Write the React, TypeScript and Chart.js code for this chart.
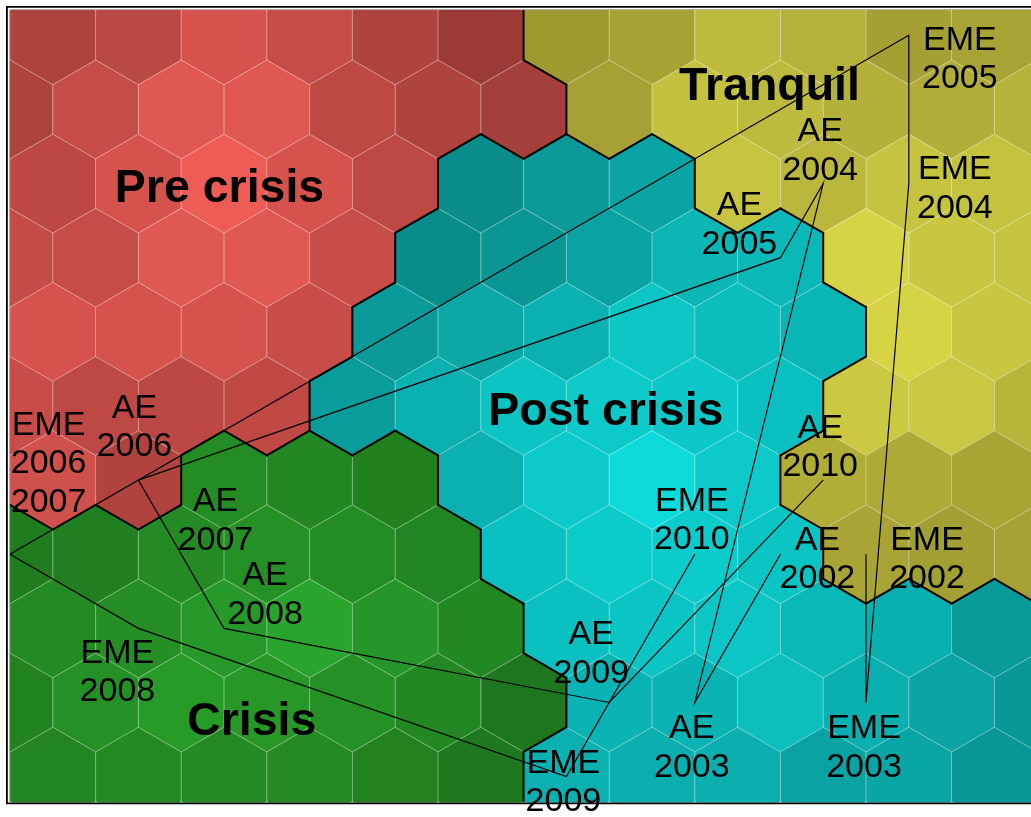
import React, { useEffect, useRef } from "react";
import { Chart, registerables } from "chart.js";

Chart.register(...registerables);

// ---------------- DATA ----------------
// SOM grid: one string per row (top to bottom), one letter per hexagon cell.
// R = Pre crisis, O = Tranquil, T = Post crisis, G = Crisis
const clusterRows: string[] = [
  "RRRRRROOOOOO",
  "RRRRRRROOOOOO",
  "RRRRRTTTOOOO",
  "RRRRRTTTTTOOO",
  "RRRRTTTTTTOO",
  "RRRRTTTTTTOOO",
  "RRGGGTTTTOOO",
  "GGGGGGTTTTOOO",
  "GGGGGGTTTTTT",
  "GGGGGGGTTTTTT",
  "GGGGGGTTTTTT",
];

// shade of every cell (same shape as clusterRows)
const cellColors: string[][] = [
  ["#AD433D", "#BA4843", "#D6524C", "#C64D47", "#AF443F", "#9C3A37", "#9E9A30", "#A6A234", "#BDBB3D", "#B5B23A", "#A5A034", "#A8A335"],
  ["#AD433D", "#C64C47", "#E05852", "#E05852", "#BE4943", "#AF433E", "#A43F3C", "#A5A134", "#C3C13E", "#BDBB3D", "#B4B13A", "#B0AD38", "#B6B33B"],
  ["#BD4843", "#D6524D", "#EE5C56", "#D6524C", "#BE4843", "#098C8A", "#0B9A99", "#0AA4A4", "#C6C440", "#BAB73C", "#C5C340", "#C4C23F"],
  ["#C44B46", "#C64C47", "#E05852", "#E05852", "#C84D48", "#098D8B", "#0A9695", "#0AA3A3", "#0BB6B5", "#0AB8B7", "#D6D444", "#C9C741", "#C5C340"],
  ["#D6524C", "#D6524C", "#D6524C", "#C84C47", "#0A9A99", "#0BA8A7", "#0BB0B0", "#0CC6C6", "#0BBDBD", "#0AB5B5", "#D6D345", "#C9C741"],
  ["#C84C47", "#BE4843", "#BD4843", "#C04944", "#0A9C9B", "#0BB0B0", "#0CC4C4", "#0CCACA", "#0CC8C8", "#0BC0C0", "#CBC941", "#CAC842", "#B8B53B"],
  ["#D0514B", "#B0433E", "#248C25", "#238823", "#21811F", "#0BB0B0", "#0CCACA", "#0DDADA", "#0CCACA", "#B1AE38", "#ADAA37", "#A9A535"],
  ["#1F7C1F", "#207F20", "#238A24", "#259025", "#248C24", "#228523", "#0BC0C0", "#0CCBCB", "#0CCBCB", "#0BC4C4", "#A8A436", "#A29F33", "#A5A134"],
  ["#238A24", "#258F26", "#27992A", "#29A42C", "#26952A", "#228823", "#0BC0C0", "#0BC4C4", "#0CC6C6", "#0AB8B8", "#0AB0B0", "#099A9A"],
  ["#218320", "#259026", "#279B28", "#279828", "#249026", "#238823", "#1E761E", "#0BB4B4", "#0BB4B4", "#0CBEBE", "#0AB0B0", "#0AA4A4", "#099898"],
  ["#228423", "#238A24", "#238A24", "#238A24", "#21821F", "#1E781E", "#0BB0B0", "#0BAEAE", "#0BAFAF", "#0AA3A3", "#0AA5A5", "#099696"],
];

const years: string[] = ["2002", "2003", "2004", "2005", "2006", "2007", "2008", "2009", "2010"];

// winning cell [row, column] of each year
const aeCells: [number, number][] = [
  [7, 9], [9, 8], [2, 9], [3, 9], [6, 1], [6, 1], [8, 2], [9, 7], [6, 9],
];
const emeCells: [number, number][] = [
  [7, 10], [9, 10], [2, 10], [0, 10], [7, 0], [7, 0], [8, 1], [10, 6], [7, 8],
];

const clusterNames: string[] = ["Pre crisis", "Tranquil", "Post crisis", "Crisis"];

// ---------------- LAYOUT ----------------
const HEX_W = 85.6; // px per grid unit horizontally
const ROW_H = 74.13; // px per row
const AREA = { left: 10, top: 10, right: 1031, bottom: 802.5 };
const ROW0_Y = 35.3;

// cluster name anchors (grid units: column, row)
const clusterNamePos: [number, number][] = [
  [2.4475, 2.2447],
  [8.873, 0.8728],
  [6.961, 5.257],
  [2.824, 9.4387],
];

// point labels: series, year index, extra years, pixel offset of block centre
type LabelSpec = { series: "AE" | "EME"; idx: number; extra?: number[]; dx: number; dy: number };
const labelSpecs: LabelSpec[] = [
  { series: "AE", idx: 0, dx: 37, dy: 3 },
  { series: "AE", idx: 1, dx: -3, dy: 43 },
  { series: "AE", idx: 2, dx: -3, dy: -35 },
  { series: "AE", idx: 3, dx: -41, dy: -35 },
  { series: "AE", idx: 4, dx: -4, dy: -55 },
  { series: "AE", idx: 5, dx: 77, dy: 38.6 },
  { series: "AE", idx: 6, dx: 41, dy: -35.5 },
  { series: "AE", idx: 7, dx: -18, dy: -51 },
  { series: "AE", idx: 8, dx: -3, dy: -35 },
  { series: "EME", idx: 0, dx: 61, dy: 3 },
  { series: "EME", idx: 1, dx: -2, dy: 43 },
  { series: "EME", idx: 2, dx: 46, dy: 3 },
  { series: "EME", idx: 3, dx: 51, dy: 22 },
  { series: "EME", idx: 4, extra: [5], dx: 38.6, dy: -92.8 },
  { series: "EME", idx: 6, dx: -21, dy: 42 },
  { series: "EME", idx: 7, dx: -3, dy: 3.4 },
  { series: "EME", idx: 8, dx: -3, dy: -36 },
];

const cellToXY = (row: number, col: number) => ({ x: col + (row % 2 === 0 ? 0.5 : 0), y: row });

const hexVerts = (cx: number, cy: number): [number, number][] => [
  [cx, cy - 2 / 3],
  [cx + 0.5, cy - 1 / 3],
  [cx + 0.5, cy + 1 / 3],
  [cx, cy + 2 / 3],
  [cx - 0.5, cy + 1 / 3],
  [cx - 0.5, cy - 1 / 3],
];

const hexPlugin = {
  id: "hexGrid",
  beforeDatasetsDraw(chart: any) {
    const { ctx, chartArea } = chart;
    const xs = chart.scales.x;
    const ys = chart.scales.y;
    const px = (u: number) => xs.getPixelForValue(u);
    const py = (r: number) => ys.getPixelForValue(r);
    ctx.save();
    ctx.beginPath();
    ctx.rect(chartArea.left, chartArea.top, chartArea.right - chartArea.left, chartArea.bottom - chartArea.top);
    ctx.clip();
    // fills
    clusterRows.forEach((rowStr, r) => {
      for (let k = 0; k < rowStr.length; k++) {
        const { x, y } = cellToXY(r, k);
        const v = hexVerts(x, y);
        ctx.beginPath();
        v.forEach(([a, b], i) => (i ? ctx.lineTo(px(a), py(b)) : ctx.moveTo(px(a), py(b))));
        ctx.closePath();
        ctx.fillStyle = cellColors[r][k];
        ctx.fill();
        ctx.strokeStyle = cellColors[r][k];
        ctx.lineWidth = 0.6;
        ctx.stroke();
      }
    });
    // thin light outlines
    ctx.strokeStyle = "rgba(255,255,255,0.28)";
    ctx.lineWidth = 0.8;
    clusterRows.forEach((rowStr, r) => {
      for (let k = 0; k < rowStr.length; k++) {
        const { x, y } = cellToXY(r, k);
        const v = hexVerts(x, y);
        ctx.beginPath();
        v.forEach(([a, b], i) => (i ? ctx.lineTo(px(a), py(b)) : ctx.moveTo(px(a), py(b))));
        ctx.closePath();
        ctx.stroke();
      }
    });
    // cluster boundaries
    ctx.strokeStyle = "#000";
    ctx.lineWidth = 2;
    ctx.lineCap = "round";
    const seg = (a: [number, number], b: [number, number]) => {
      ctx.beginPath();
      ctx.moveTo(px(a[0]), py(a[1]));
      ctx.lineTo(px(b[0]), py(b[1]));
      ctx.stroke();
    };
    clusterRows.forEach((rowStr, r) => {
      for (let k = 0; k < rowStr.length; k++) {
        const c = rowStr[k];
        const { x, y } = cellToXY(r, k);
        // right neighbour
        if (k + 1 < rowStr.length && rowStr[k + 1] !== c) seg([x + 0.5, y - 1 / 3], [x + 0.5, y + 1 / 3]);
        const next = clusterRows[r + 1];
        if (!next) continue;
        const ll = r % 2 === 0 ? k : k - 1;
        const lr = r % 2 === 0 ? k + 1 : k;
        if (ll >= 0 && ll < next.length && next[ll] !== c) seg([x - 0.5, y + 1 / 3], [x, y + 2 / 3]);
        if (lr >= 0 && lr < next.length && next[lr] !== c) seg([x, y + 2 / 3], [x + 0.5, y + 1 / 3]);
      }
    });
    ctx.restore();
  },
  afterDatasetsDraw(chart: any) {
    const { ctx } = chart;
    const xs = chart.scales.x;
    const ys = chart.scales.y;
    ctx.save();
    ctx.fillStyle = "#000";
    ctx.textAlign = "center";
    ctx.textBaseline = "alphabetic";
    // cluster names
    ctx.font = 'bold 46.5px "Liberation Sans", Arial, sans-serif';
    clusterNames.forEach((name, i) => {
      const [u, r] = clusterNamePos[i];
      ctx.fillText(name, xs.getPixelForValue(u), ys.getPixelForValue(r));
    });
    // point labels
    ctx.font = '34px "Liberation Sans", Arial, sans-serif';
    const LINE = 38.6;
    labelSpecs.forEach((s) => {
      const cells = s.series === "AE" ? aeCells : emeCells;
      const [row, col] = cells[s.idx];
      const p = cellToXY(row, col);
      const cx = xs.getPixelForValue(p.x) + s.dx;
      const cy = ys.getPixelForValue(p.y) + s.dy;
      const lines = [s.series, years[s.idx], ...(s.extra || []).map((e) => years[e])];
      const n = lines.length;
      lines.forEach((t, i) => {
        ctx.fillText(t, cx, cy + (i - (n - 1) / 2) * LINE + 11.8);
      });
    });
    ctx.restore();
  },
  afterDraw(chart: any) {
    const { ctx } = chart;
    ctx.save();
    // light inner line
    ctx.strokeStyle = "#b0b0b0";
    ctx.lineWidth = 1;
    ctx.beginPath();
    ctx.moveTo(9.5, 802);
    ctx.lineTo(9.5, 9.5);
    ctx.lineTo(1031, 9.5);
    ctx.stroke();
    // black frame
    ctx.strokeStyle = "#000";
    ctx.lineWidth = 1.8;
    ctx.beginPath();
    ctx.moveTo(1031, 6.9);
    ctx.lineTo(6.9, 6.9);
    ctx.lineTo(6.9, 803.3);
    ctx.lineTo(1031, 803.3);
    ctx.stroke();
    ctx.restore();
  },
};

export default function App() {
  const ref = useRef<HTMLCanvasElement>(null);
  useEffect(() => {
    if (!ref.current) return;
    const xMin = 0;
    const xMax = (AREA.right - AREA.left) / HEX_W;
    const yMin = (AREA.top - ROW0_Y) / ROW_H;
    const yMax = (AREA.bottom - ROW0_Y) / ROW_H;
    const toPts = (cells: [number, number][]) => cells.map(([r, c]) => cellToXY(r, c));
    const chart = new Chart(ref.current, {
      type: "scatter",
      data: {
        datasets: [
          {
            label: "AE",
            data: toPts(aeCells),
            showLine: true,
            borderColor: "#000",
            borderWidth: 1.2,
            pointRadius: 0,
            tension: 0,
            fill: false,
          },
          {
            label: "EME",
            data: toPts(emeCells),
            showLine: true,
            borderColor: "#000",
            borderWidth: 1.2,
            pointRadius: 0,
            tension: 0,
            fill: false,
          },
        ],
      },
      options: {
        animation: false,
        responsive: false,
        devicePixelRatio: 1,
        layout: {
          padding: { left: AREA.left, top: AREA.top, right: 1031 - AREA.right, bottom: 817 - AREA.bottom },
        },
        scales: {
          x: { type: "linear", min: xMin, max: xMax, display: false },
          y: { type: "linear", min: yMin, max: yMax, reverse: true, display: false },
        },
        plugins: {
          legend: { display: false },
          tooltip: { enabled: false },
          title: { display: false },
        },
      },
      plugins: [hexPlugin],
    });
    return () => chart.destroy();
  }, []);
  return (
    <div style={{ position: "fixed", left: 0, top: 0, width: 1031, height: 817, background: "#fff" }}>
      <canvas ref={ref} width={1031} height={817} style={{ display: "block", width: 1031, height: 817 }} />
    </div>
  );
}
